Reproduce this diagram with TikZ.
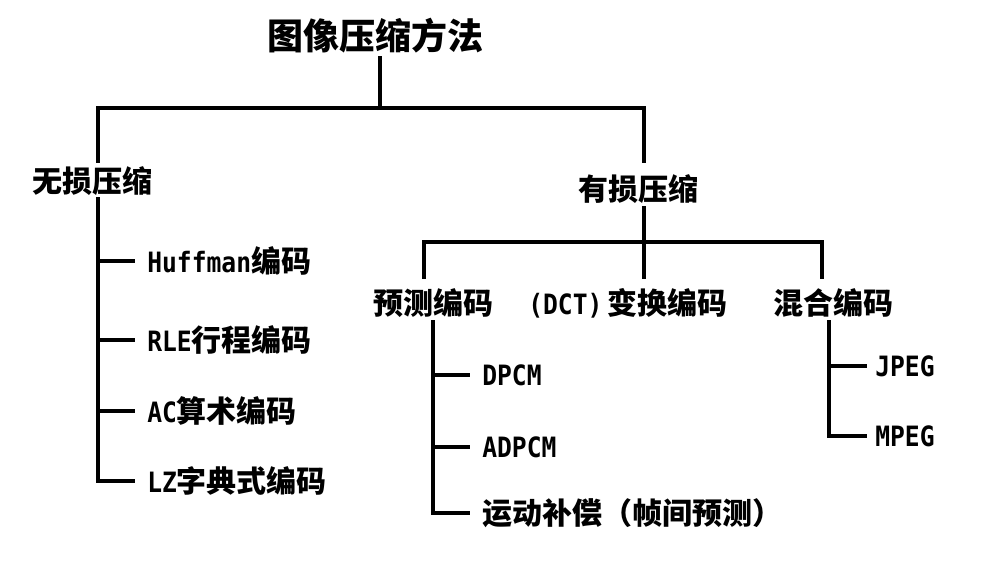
\documentclass[tikz,border=0pt]{standalone}
\usepackage{fontspec}
\setmainfont{Noto Sans CJK SC}
\newfontfamily\latnfont{DejaVu Sans Mono}[FakeStretch=0.88]
\newcommand\latxt[1]{{\latnfont\fontsize{21pt}{22pt}\selectfont\bfseries #1}}
\begin{document}
\begin{tikzpicture}[x=0.75pt,y=-0.75pt,
  lbl/.style={inner sep=0pt,font=\fontsize{22.5pt}{24pt}\selectfont\bfseries},
  ttl/.style={inner sep=0pt,font=\fontsize{27pt}{29pt}\selectfont\bfseries},
  leaf/.style={lbl,anchor=west},
  conn/.style={line width=3pt,line cap=rect,line join=miter}]
\useasboundingbox (0,0) rectangle (984,564);
% nodes
\node[ttl] (title) at (375,36) {图像压缩方法};
\node[lbl] (lossless) at (92,181) {无损压缩};
\node[lbl] (lossy) at (638,189) {有损压缩};
\node[lbl] (pred) at (433,303) {预测编码};
\node[lbl,anchor=west] (dct) at (528,303) {\latxt{(DCT)}\hspace{4pt}变换编码};
\node[lbl] (mix) at (833,303) {混合编码};
\node[leaf] (huff) at (147,261) {\latxt{Huffman}编码};
\node[leaf] (rle) at (147,340) {\latxt{RLE}行程编码};
\node[leaf] (ac) at (147,411) {\latxt{AC}算术编码};
\node[leaf] (lz) at (147,481) {\latxt{LZ}字典式编码};
\node[leaf] (dpcm) at (482,375) {\latxt{DPCM}};
\node[leaf] (adpcm) at (482,447) {\latxt{ADPCM}};
\node[leaf] (mc) at (482,513) {运动补偿（帧间预测）};
\node[leaf] (jpeg) at (875,366) {\latxt{JPEG}};
\node[leaf] (mpeg) at (875,436) {\latxt{MPEG}};
% junction coordinates
\coordinate (t0) at (380,58);
\coordinate (j0) at (380,108);
\coordinate (jl) at (98,108);
\coordinate (jr) at (644,108);
\coordinate (l0) at (98,161);
\coordinate (r0) at (644,161);
\coordinate (ls) at (98,199);
\coordinate (rs) at (644,208);
\coordinate (s0) at (644,242);
\coordinate (sl) at (424,242);
\coordinate (sr) at (822,242);
\coordinate (pl) at (424,277);
\coordinate (pc) at (644,277);
\coordinate (pr) at (822,277);
\coordinate (ps) at (433,322);
\coordinate (ms) at (829,322);
% connectors
\draw[conn] (t0) -- (j0);
\draw[conn] (l0) -- (jl) -- (jr) -- (r0);
\draw[conn] (ls) |- (lz.west -| 133,0);
\foreach \n in {huff,rle,ac} \draw[conn] (ls |- \n.west) -- (\n.west -| 133,0);
\draw[conn] (rs) -- (s0);
\draw[conn] (pl) -- (sl) -- (sr) -- (pr);
\draw[conn] (s0) -- (pc);
\draw[conn] (ps) |- (mc.west -| 468,0);
\foreach \n in {dpcm,adpcm} \draw[conn] (ps |- \n.west) -- (\n.west -| 468,0);
\draw[conn] (ms) |- (mpeg.west -| 865,0);
\draw[conn] (ms |- jpeg.west) -- (jpeg.west -| 865,0);
\end{tikzpicture}
\end{document}
